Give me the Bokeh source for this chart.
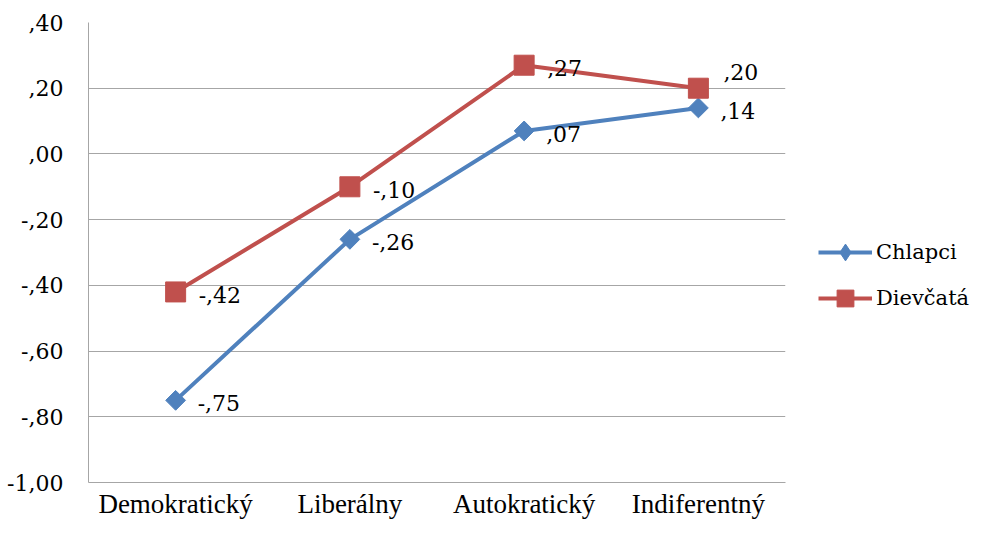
import math
from bokeh.plotting import figure
from bokeh.layouts import row
from bokeh.models import (FactorRange, Range1d, FixedTicker, Legend, LegendItem,
                          ColumnDataSource)
from bokeh.core.properties import value
from bokeh.embed import file_html
from bokeh.resources import INLINE

categories = ["Demokratický", "Liberálny", "Autokratický", "Indiferentný"]
chlapci = [-0.75, -0.26, 0.07, 0.14]
dievcata = [-0.42, -0.10, 0.27, 0.20]
series_names = ["Chlapci", "Dievčatá"]
y_ticks = [-1.0, -0.8, -0.6, -0.4, -0.2, 0.0, 0.2, 0.4]
y_tick_labels = ["-1,00", "-,80", "-,60", "-,40", "-,20", ",00", ",20", ",40"]

XFONT = "Liberation Serif"
FONT = "DejaVu Serif"
FS = "22px"
BLUE = "#4F81BD"
RED = "#C0504D"
GRID = "#A6A6A6"


def fmt(v):
    s = "%.2f" % abs(v)
    if s.startswith("0"):
        s = s[1:]
    s = s.replace(".", ",")
    return ("-" if v < 0 else "") + s


p = figure(x_range=FactorRange(*categories), y_range=Range1d(-1.0, 0.4),
           width=800, height=522, output_backend="svg", toolbar_location=None,
           min_border_left=88, min_border_right=15, min_border_top=22,
           min_border_bottom=40)
p.outline_line_color = None
p.background_fill_color = "white"

p.yaxis.ticker = FixedTicker(ticks=y_ticks)
p.yaxis.major_label_overrides = {t: l for t, l in zip(y_ticks, y_tick_labels)}
for ax in (p.xaxis, p.yaxis):
    ax.axis_line_color = GRID
    ax.axis_line_width = 1
    ax.major_tick_line_color = None
    ax.minor_tick_line_color = None
    ax.major_tick_in = 0
    ax.major_tick_out = 0
    ax.major_label_text_color = "black"
p.xaxis.major_label_text_font = XFONT
p.xaxis.major_label_text_font_size = "27px"
p.yaxis.major_label_text_font = FONT
p.yaxis.major_label_text_font_size = FS
p.yaxis.major_label_standoff = 25
p.xaxis.major_label_standoff = 6
p.xgrid.grid_line_color = None
p.ygrid.grid_line_color = GRID
p.ygrid.grid_line_width = 1

src_c = ColumnDataSource(dict(x=categories, y=chlapci, t=[fmt(v) for v in chlapci]))
src_d = ColumnDataSource(dict(x=categories, y=dievcata, t=[fmt(v) for v in dievcata]))

p.line("x", "y", source=src_c, line_color=BLUE, line_width=4)
p.scatter("x", "y", source=src_c, marker="square", angle=math.pi / 4, size=14,
          fill_color=BLUE, line_color=BLUE)
p.line("x", "y", source=src_d, line_color=RED, line_width=4)
p.scatter("x", "y", source=src_d, marker="square", size=20,
          fill_color=RED, line_color=RED)

# data labels
label_style = dict(text_font=value(FONT), text_font_size=FS, text_color="black",
                   text_baseline="middle", text_align="left")
p.text("x", "y", text="t", source=src_c, x_offset=22, y_offset=3, **label_style)
src_d1 = ColumnDataSource(dict(x=categories[:3], y=dievcata[:3],
                               t=[fmt(v) for v in dievcata[:3]]))
src_d2 = ColumnDataSource(dict(x=categories[3:], y=dievcata[3:],
                               t=[fmt(v) for v in dievcata[3:]]))
p.text("x", "y", text="t", source=src_d1, x_offset=23, y_offset=3, **label_style)
p.text("x", "y", text="t", source=src_d2, x_offset=25, y_offset=-16, **label_style)

# legend panel
p2 = figure(width=172, height=522, output_backend="svg", toolbar_location=None,
            x_range=FactorRange(*categories), y_range=Range1d(10, 11),
            min_border_left=0, min_border_right=0, min_border_top=0,
            min_border_bottom=0)
p2.axis.visible = False
p2.grid.visible = False
p2.outline_line_color = None
l1 = p2.line("x", "y", source=src_c, line_color=BLUE, line_width=4, visible=False)
m1 = p2.scatter("x", "y", source=src_c, marker="diamond", size=17,
                fill_color=BLUE, line_color=BLUE, visible=False)
l2 = p2.line("x", "y", source=src_d, line_color=RED, line_width=4, visible=False)
m2 = p2.scatter("x", "y", source=src_d, marker="square", size=17,
                fill_color=RED, line_color=RED, visible=False)

legend = Legend(items=[LegendItem(label=series_names[0], renderers=[l1, m1]),
                       LegendItem(label=series_names[1], renderers=[l2, m2])],
                location=(18, 163), orientation="vertical",
                label_text_font=FONT, label_text_font_size="21px",
                label_text_color="black", glyph_width=54, glyph_height=42,
                label_standoff=4, spacing=4, padding=0, margin=0,
                border_line_color=None, background_fill_alpha=0,
                inactive_fill_alpha=0, click_policy="none")
p2.add_layout(legend, "center")

layout = row(p, p2)
open("out.html", "w").write(file_html(layout, INLINE))
